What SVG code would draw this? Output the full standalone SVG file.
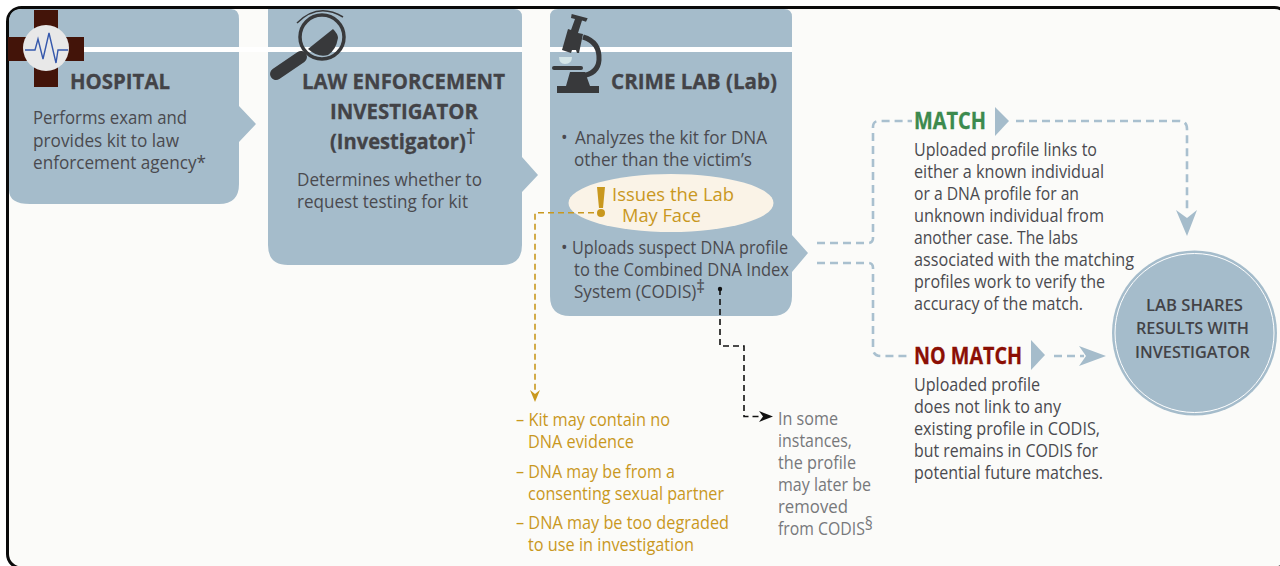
<svg xmlns="http://www.w3.org/2000/svg" width="1280" height="566" viewBox="0 0 1280 566">
<defs>
<style>
text{font-family:"Open Sans","Noto Sans","Liberation Sans",sans-serif;fill:#4a4a4f;font-size:17.6px}
.h{font-weight:700;font-size:22px;fill:#434347;stroke:#434347;stroke-width:.3}
.y{fill:#c9981e}
.n{fill:#77787b}
.box{fill:#a5bccb}
.c{fill:none;stroke:#a9c0cf;stroke-width:2.6;stroke-dasharray:8 5}
.g{fill:none;stroke:#c9981e;stroke-width:1.6;stroke-dasharray:6 4}
.k{fill:none;stroke:#111;stroke-width:1.6;stroke-dasharray:6 4}
.ic{fill:#38393b}
.t{font-weight:600;font-size:17px;fill:#434347}
.sup{font-weight:400;stroke:none}
</style>
</defs>
<rect x="0" y="0" width="1280" height="566" fill="#fff"/>
<rect x="7.5" y="7.5" width="1281" height="560.5" rx="14" fill="#fbfbf9" stroke="#0a0a0a" stroke-width="3"/>

<g id="hospital">
<path class="box" d="M9 22Q9 9 22 9H231Q239 9 239 19V106L256 124L239 142V184Q239 204 219 204H30Q9 204 9 190Z"/>
<rect x="84" y="47" width="184" height="5" fill="#fff"/>
<path d="M34 10H58V37H84V61H58V87H34V61H8V37H34Z" fill="#431409"/>
<circle cx="46" cy="48" r="23" fill="#e8e8e8"/>
<path d="M25 50H35L38 39L43 59L49 33L56 63L58 50H68" fill="none" stroke="#3558ac" stroke-width="1.4"/>
<text class="h" x="70" y="88.5" textLength="100" lengthAdjust="spacingAndGlyphs">HOSPITAL</text>
<text x="33" y="124" textLength="154" lengthAdjust="spacingAndGlyphs">Performs exam and</text>
<text x="33" y="147" textLength="146" lengthAdjust="spacingAndGlyphs">provides kit to law</text>
<text x="33" y="169" textLength="173" lengthAdjust="spacingAndGlyphs">enforcement agency*</text>
</g>

<g id="investigator">
<path class="box" d="M268 9H514Q522 9 522 17V157L538 175L522 192V245Q522 265 502 265H288Q268 265 268 245Z"/>
<rect x="268" y="47" width="254" height="5" fill="#fff"/>
<g id="magnifier">
<circle cx="322" cy="37" r="22" fill="none" stroke="#38393b" stroke-width="3.5"/>
<path d="M308 49L333 29Q338 34 338 38Q336 50 328 55Q318 58 308 49Z" class="ic"/>
<path d="M297 23Q318 2 343 17" fill="none" stroke="#38393b" stroke-width="1.5"/>
<path d="M276 74L301 57" stroke="#38393b" stroke-width="12" stroke-linecap="round"/>
</g>
<text class="h" x="302" y="88.5" textLength="203" lengthAdjust="spacingAndGlyphs">LAW ENFORCEMENT</text>
<text class="h" x="330" y="118.5" textLength="148" lengthAdjust="spacingAndGlyphs">INVESTIGATOR</text>
<text class="h" x="330" y="148.5" textLength="146" lengthAdjust="spacingAndGlyphs">(Investigator)<tspan class="sup" dy="-5">†</tspan></text>
<text x="297" y="186" textLength="185" lengthAdjust="spacingAndGlyphs">Determines whether to</text>
<text x="297" y="208" textLength="171" lengthAdjust="spacingAndGlyphs">request testing for kit</text>
</g>

<g id="crimelab">
<path class="box" d="M550 17Q550 9 558 9H784Q792 9 792 17V235L808 253L792 272V296Q792 316 772 316H570Q550 316 550 296Z"/>
<rect x="550" y="47" width="242" height="5" fill="#fff"/>
<g id="microscope">
<path class="ic" d="M571.7 14L587.7 18.3L586 21.7L582 20.6L578 33L583 34L579 53L577 53L576 50L572 50L571 53L562 50L568 29L571 30L575 19L571 18Z"/>
<path d="M583 37Q600 42 599 60Q598 74 581 76" fill="none" stroke="#38393b" stroke-width="5"/>
<path d="M554 68H581" stroke="#38393b" stroke-width="4" stroke-linecap="round"/>
<path d="M559 57H572Q572 64 565 64Q559 64 559 57Z" fill="#d5e6e8"/>
<path class="ic" d="M557 93V86H566L570 72H585L590 86H599V93Z"/>
</g>
<text class="h" x="611" y="88.5" textLength="166" lengthAdjust="spacingAndGlyphs">CRIME LAB (Lab)</text>
<text x="561" y="144">•</text>
<text x="575" y="144" textLength="192" lengthAdjust="spacingAndGlyphs">Analyzes the kit for DNA</text>
<text x="574" y="166" textLength="178" lengthAdjust="spacingAndGlyphs">other than the victim’s</text>
<ellipse cx="671" cy="203" rx="102.5" ry="29" fill="#faf3e7"/>
<path d="M597 187H605L603 208H599Z" fill="#c9981e"/>
<circle cx="601" cy="213" r="4" fill="#c9981e"/>
<text class="y" x="612" y="200.5" style="font-size:19px" textLength="122" lengthAdjust="spacingAndGlyphs">Issues the Lab</text>
<text class="y" x="622" y="222.3" style="font-size:19px" textLength="79" lengthAdjust="spacingAndGlyphs">May Face</text>
<text x="561" y="254">•</text>
<text x="572" y="254" textLength="216" lengthAdjust="spacingAndGlyphs">Uploads suspect DNA profile</text>
<text x="574" y="276" textLength="215" lengthAdjust="spacingAndGlyphs">to the Combined DNA Index</text>
<text x="574" y="298" textLength="131" lengthAdjust="spacingAndGlyphs">System (CODIS)<tspan dy="-5">‡</tspan></text>
</g>

<g id="connectors">
<path class="c" d="M817 243H868Q873 243 873 238V127Q873 121 879 121H912"/>
<path class="c" d="M1016 121H1179Q1187 121 1187 129V212"/>
<path class="c" d="M817 263H868Q873 263 873 268V348Q873 356 881 356H910"/>
<path class="c" d="M1054 356H1084"/>
<path d="M1176 210L1187 218L1197 210L1187 236Z" class="box"/>
<path d="M1079 346L1106 356L1079 366L1086 356Z" class="box"/>
<path d="M995 107L1009 121L995 136Z" class="box"/>
<path d="M1031 340L1045 355L1031 370Z" class="box"/>
<path class="g" d="M594 212.7H535V390"/>
<path d="M530 390L535 394L540 390L535 402Z" fill="#c9981e"/>
<circle cx="720" cy="289" r="2.2" fill="#111"/>
<path class="k" d="M720 289V346H744V416.5H760"/>
<path d="M759 411L773 416.5L759 422L763 416.5Z" fill="#111"/>
</g>

<g id="match">
<text x="914" y="128.5" style="font-size:23px;font-weight:700;fill:#3c8a4e;stroke:#3c8a4e;stroke-width:.3" textLength="72" lengthAdjust="spacingAndGlyphs">MATCH</text>
<text x="914" y="156" textLength="183" lengthAdjust="spacingAndGlyphs">Uploaded profile links to</text>
<text x="914" y="178" textLength="190" lengthAdjust="spacingAndGlyphs">either a known individual</text>
<text x="914" y="200" textLength="165" lengthAdjust="spacingAndGlyphs">or a DNA profile for an</text>
<text x="914" y="222" textLength="190" lengthAdjust="spacingAndGlyphs">unknown individual from</text>
<text x="914" y="244" textLength="164" lengthAdjust="spacingAndGlyphs">another case. The labs</text>
<text x="914" y="266" textLength="220" lengthAdjust="spacingAndGlyphs">associated with the matching</text>
<text x="914" y="288" textLength="191" lengthAdjust="spacingAndGlyphs">profiles work to verify the</text>
<text x="914" y="310" textLength="169" lengthAdjust="spacingAndGlyphs">accuracy of the match.</text>
</g>

<g id="nomatch">
<text x="914" y="364" style="font-size:23px;font-weight:700;fill:#8b0f04;stroke:#8b0f04;stroke-width:.3" textLength="108" lengthAdjust="spacingAndGlyphs">NO MATCH</text>
<text x="914" y="391" textLength="126" lengthAdjust="spacingAndGlyphs">Uploaded profile</text>
<text x="914" y="413" textLength="147" lengthAdjust="spacingAndGlyphs">does not link to any</text>
<text x="914" y="435" textLength="186" lengthAdjust="spacingAndGlyphs">existing profile in CODIS,</text>
<text x="914" y="457" textLength="184" lengthAdjust="spacingAndGlyphs">but remains in CODIS for</text>
<text x="914" y="479" textLength="189" lengthAdjust="spacingAndGlyphs">potential future matches.</text>
</g>

<g id="shares">
<circle cx="1194.5" cy="333" r="82.5" class="box"/>
<circle cx="1194.5" cy="333" r="79.5" fill="none" stroke="#fff" stroke-width="1"/>
<text class="t" x="1146" y="311" textLength="97" lengthAdjust="spacingAndGlyphs">LAB SHARES</text>
<text class="t" x="1136" y="334" textLength="113" lengthAdjust="spacingAndGlyphs">RESULTS WITH</text>
<text class="t" x="1135" y="358" textLength="115" lengthAdjust="spacingAndGlyphs">INVESTIGATOR</text>
</g>

<g id="issues">
<text class="y" x="516" y="426" textLength="154" lengthAdjust="spacingAndGlyphs">– Kit may contain no</text>
<text class="y" x="528" y="448" textLength="106" lengthAdjust="spacingAndGlyphs">DNA evidence</text>
<text class="y" x="516" y="478" textLength="159" lengthAdjust="spacingAndGlyphs">– DNA may be from a</text>
<text class="y" x="528" y="500" textLength="196" lengthAdjust="spacingAndGlyphs">consenting sexual partner</text>
<text class="y" x="516" y="529" textLength="213" lengthAdjust="spacingAndGlyphs">– DNA may be too degraded</text>
<text class="y" x="528" y="551" textLength="166" lengthAdjust="spacingAndGlyphs">to use in investigation</text>
</g>

<g id="note">
<text class="n" x="778" y="425" textLength="60" lengthAdjust="spacingAndGlyphs">In some</text>
<text class="n" x="778" y="447" textLength="74" lengthAdjust="spacingAndGlyphs">instances,</text>
<text class="n" x="778" y="469" textLength="78" lengthAdjust="spacingAndGlyphs">the profile</text>
<text class="n" x="778" y="491" textLength="93" lengthAdjust="spacingAndGlyphs">may later be</text>
<text class="n" x="778" y="513" textLength="70" lengthAdjust="spacingAndGlyphs">removed</text>
<text class="n" x="778" y="535" textLength="95" lengthAdjust="spacingAndGlyphs">from CODIS<tspan dy="-5">§</tspan></text>
</g>
</svg>
